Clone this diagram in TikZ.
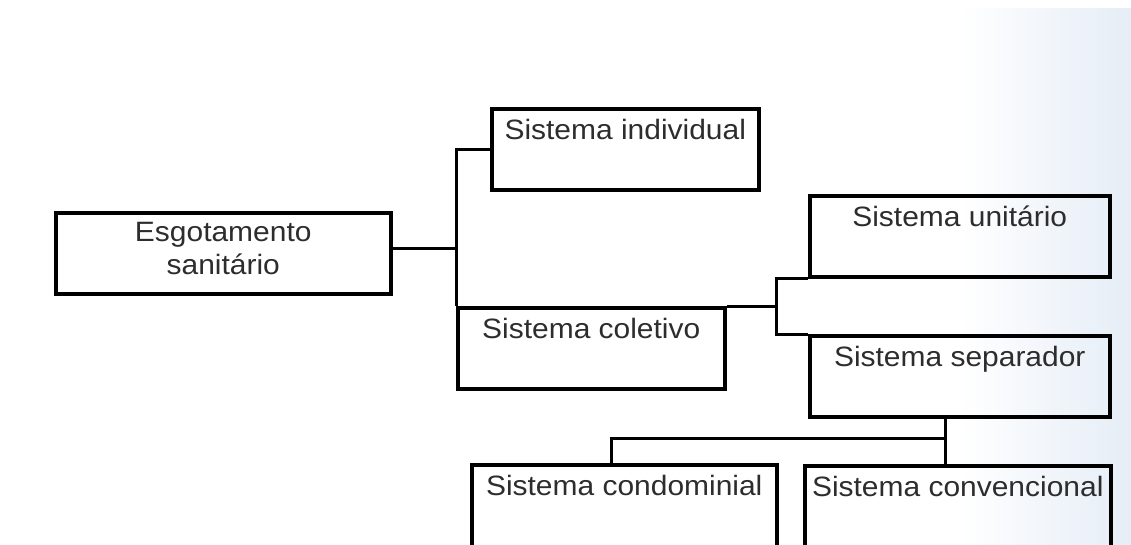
\documentclass[tikz,border=0pt]{standalone}
\usepackage{fontspec}
\setmainfont{Liberation Sans}[FakeStretch=1.07]
\definecolor{txt}{RGB}{45,45,45}
\definecolor{bgblue}{RGB}{229,237,246}
\begin{document}
\begin{tikzpicture}[x=1pt,y=-1pt,
  box/.style={draw=black,line width=3.5pt,inner sep=0pt,anchor=north west,
    text height=31pt,text depth=50pt,font=\fontsize{28}{33}\selectfont,text=txt},
  link/.style={draw=black,line width=3pt}]
\clip (0,0) rectangle (1131,544);
\fill[white] (0,0) rectangle (1131,544);
\shade[left color=white,right color=bgblue] (960,8) rectangle (1131,544);
% nodes
\node[box,minimum width=335pt,align=center,text height=62pt,text depth=19pt] (esg) at (54,211) {Esgotamento\\sanitário};
\node[box,minimum width=267pt] (ind) at (490,107) {Sistema individual};
\node[box,minimum width=267pt] (col) at (456,306) {Sistema coletivo};
\node[box,minimum width=300pt] (uni) at (808,194) {Sistema unitário};
\node[box,minimum width=300pt] (sep) at (808,334) {Sistema separador};
\node[box,minimum width=305pt,text depth=70pt] (cond) at (470,463) {Sistema condominial};
\node[box,minimum width=306pt,text depth=70pt] (conv) at (803,464) {Sistema convencional};
% junctions
\coordinate (e) at ([yshift=5pt]esg.east);
\coordinate (j2) at (776,306);
\coordinate (j3) at (945,438);
\coordinate (j4) at (611,438);
% connectors
\draw[link] (e) -- (e -| col.west);
\draw[link] (ind.west) -| (col.north west);
\draw[link] (col.north east) -- (col.north east -| j2);
\draw[link] (uni.south west) -| (j2);
\draw[link] (sep.north west) -| (j2);
\draw[link] (j3 |- sep.south) -- (j3 |- conv.north);
\draw[link] (j3) -- (j4) -- (j4 |- cond.north);
\end{tikzpicture}
\end{document}
